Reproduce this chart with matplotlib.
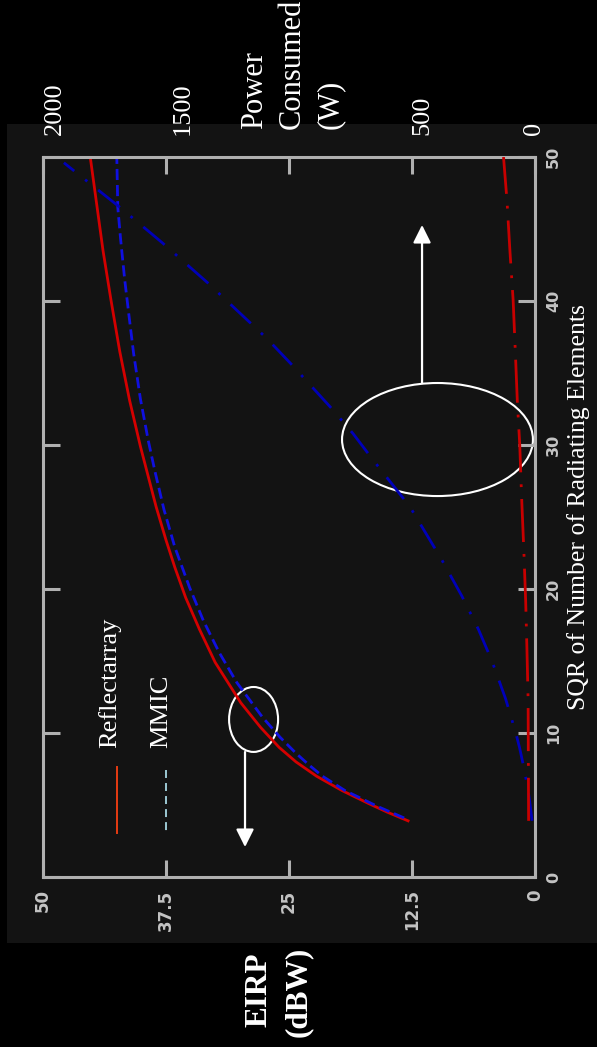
import matplotlib
matplotlib.use("Agg")
from matplotlib import pyplot as plt
from matplotlib.patches import Rectangle, Ellipse
from matplotlib.lines import Line2D

W, H = 597, 1047

# EIRP (dBW) against SQR of number of radiating elements
refl_sqr = [3.9, 4.5, 5.1, 6.0, 7.0, 8.0, 9.0, 10.4, 12.1, 14.9, 17.2, 19.4, 21.5, 23.4,
            25.7, 27.8, 29.9, 33.1, 36.5, 40.1, 43.5, 47.0, 50.0]
refl_eirp = [12.9, 15.0, 16.9, 19.6, 22.2, 24.3, 26.0, 27.9, 29.9, 32.5, 34.1, 35.5, 36.6, 37.5,
             38.5, 39.3, 40.1, 41.2, 42.2, 43.1, 43.9, 44.6, 45.2]

mmic_sqr = [4.1, 4.9, 6.0, 7.0, 7.8, 8.6, 9.7, 11.1, 13.5, 15.6, 17.8, 20.1, 22.9,
            25.5, 28.1, 30.3, 33.2, 36.4, 39.2, 41.5, 44.2, 46.5, 50.0]
mmic_eirp = [13.3, 16.0, 19.3, 21.6, 23.0, 24.3, 25.9, 27.7, 30.3, 32.1, 33.7, 35.1, 36.6,
             37.7, 38.6, 39.3, 40.1, 40.8, 41.3, 41.7, 42.1, 42.4, 42.5]

# power consumed (W)
mmic_pw_sqr = [3.9, 4.2, 5.3, 6.0, 7.5, 9.0, 10.0, 12.4, 15.0, 17.2, 19.5, 22.0,
               25.7, 29.0, 30.8, 32.6, 35.6, 37.4, 41.3, 44.0, 46.5, 49.6]
mmic_power = [12, 14, 22, 28, 44, 63, 78, 120, 175, 230, 297, 378,
              508, 660, 740, 830, 990, 1090, 1333, 1512, 1687, 1915]

refl_pw_sqr = [3.9, 8.0, 12.3, 16.0, 19.2, 22.5, 26.2, 30.0, 33.1, 36.5, 40.1, 43.5, 47.0, 50.0]
refl_power = [26, 27, 28, 33, 38, 45, 54, 62, 72, 80, 89, 102, 114, 128]

eirp_ticks = [0, 12.5, 25, 37.5, 50]
eirp_labels = ["0", "12.5", "25", "37.5", "50"]
sqr_ticks = [0, 10, 20, 30, 40, 50]
sqr_labels = ["0", "10", "20", "30", "40", "50"]
power_ticks = [0, 500, 1000, 1500, 2000]
power_labels = ["2000", "1500", "500", "0"]

SERIF = "Liberation Serif"
GRID = "#b0b0b0"
LBL = "#c4c4c4"


def fx(x):
    return x / W


def fy(y):
    return 1 - y / H


fig = plt.figure(figsize=(W / 100, H / 100), dpi=100, facecolor="black")
fig.add_artist(Rectangle((fx(7), fy(943)), 590 / W, 819 / H, transform=fig.transFigure,
                         facecolor="#131313", edgecolor="none", zorder=-1))

ax = fig.add_axes([fx(43), fy(877), 492 / W, 720 / H])
ax.set_facecolor("none")
ax2 = ax.twiny()

ax.set_xlim(50, 0)
ax.set_ylim(0, 50)
ax2.set_xlim(2000, 0)

ax.plot(refl_eirp, refl_sqr, color="#d40000", lw=2)
ax.plot(mmic_eirp, mmic_sqr, color="#1010e0", lw=2, linestyle=(0, (4, 1.8)))
ax2.plot(mmic_power, mmic_pw_sqr, color="#0000b8", lw=2, linestyle=(0, (10, 5, 1, 5)))
ax2.plot(refl_power, refl_pw_sqr, color="#c80000", lw=2, linestyle=(0, (15.5, 4.3, 1, 4.3)))

for s in ax.spines.values():
    s.set_color(GRID)
    s.set_linewidth(2.2)
for s in ax2.spines.values():
    s.set_visible(False)

ax.set_xticks(eirp_ticks, labels=eirp_labels)
ax.tick_params(axis="x", direction="in", length=12, width=2.2, color=GRID, labelcolor=LBL,
               labelsize=12, labelrotation=90, pad=9, top=False, bottom=True)
for t in ax.get_xticklabels():
    t.set_fontweight("bold")
    t.set_va("top")

ax.set_yticks(sqr_ticks, labels=sqr_labels)
ax.tick_params(axis="y", direction="in", length=12, width=2.2, color=GRID, labelcolor=LBL,
               labelsize=11.5, labelrotation=90, pad=8, left=True, right=True,
               labelleft=False, labelright=True)
for t in ax.get_yticklabels():
    t.set_fontweight("bold")
    t.set_va("center")

ax2.set_xticks(power_ticks)
ax2.tick_params(axis="x", direction="in", length=12, width=2.2, color=GRID,
                top=True, bottom=False, labeltop=False, labelbottom=False)

# annotations
ax.add_patch(Ellipse((28.6, 10.94), 4.98, 4.51, fill=False, ec="white", lw=1.5))
ax.add_patch(Ellipse((9.91, 30.38), 19.4, 7.85, fill=False, ec="white", lw=1.5))
arrow = dict(arrowstyle="-|>", color="white", lw=1.6, mutation_scale=27, shrinkA=0, shrinkB=0)
ax.annotate("", xy=(29.47, 2.08), xytext=(29.47, 8.68), arrowprops=arrow)
ax.annotate("", xy=(11.48, 45.28), xytext=(11.48, 34.3), arrowprops=arrow)

# right-hand (top) power labels
for s, xc in zip(power_labels, [55, 183, 422, 534]):
    fig.text(fx(xc), fy(135), s, family=SERIF, size=19, color="white",
             rotation=90, ha="center", va="bottom")
for s, xc in zip(["Power", "Consumed", "(W)"], [254.7, 292.7, 330.7]):
    fig.text(fx(xc), fy(129), s, family=SERIF, size=22, color="white",
             rotation=90, ha="center", va="bottom")

fig.text(fx(579), fy(507), "SQR of Number of Radiating Elements", family=SERIF, size=18.5,
         color="white", rotation=90, ha="center", va="center")

fig.text(fx(259.4), fy(990), "EIRP", family=SERIF, size=22.5, weight="bold",
         color="white", rotation=90, ha="center", va="center")
fig.text(fx(298), fy(992), "(dBW)", family=SERIF, size=22.5, weight="bold",
         color="white", rotation=90, ha="center", va="center")

# legend
fig.text(fx(110), fy(748), "Reflectarray", family=SERIF, size=19, color="white",
         rotation=90, ha="center", va="bottom")
fig.text(fx(161), fy(748), "MMIC", family=SERIF, size=19, color="white",
         rotation=90, ha="center", va="bottom")
fig.add_artist(Line2D([fx(117), fx(117)], [fy(767), fy(833)], transform=fig.transFigure,
                      color="#e63c12", lw=1.4))
fig.add_artist(Line2D([fx(166), fx(166)], [fy(770), fy(833)], transform=fig.transFigure,
                      color="#9cc8d4", lw=1.4, linestyle=(0, (4.1, 2.6))))

fig.savefig("out.png", dpi=100, facecolor="black")
